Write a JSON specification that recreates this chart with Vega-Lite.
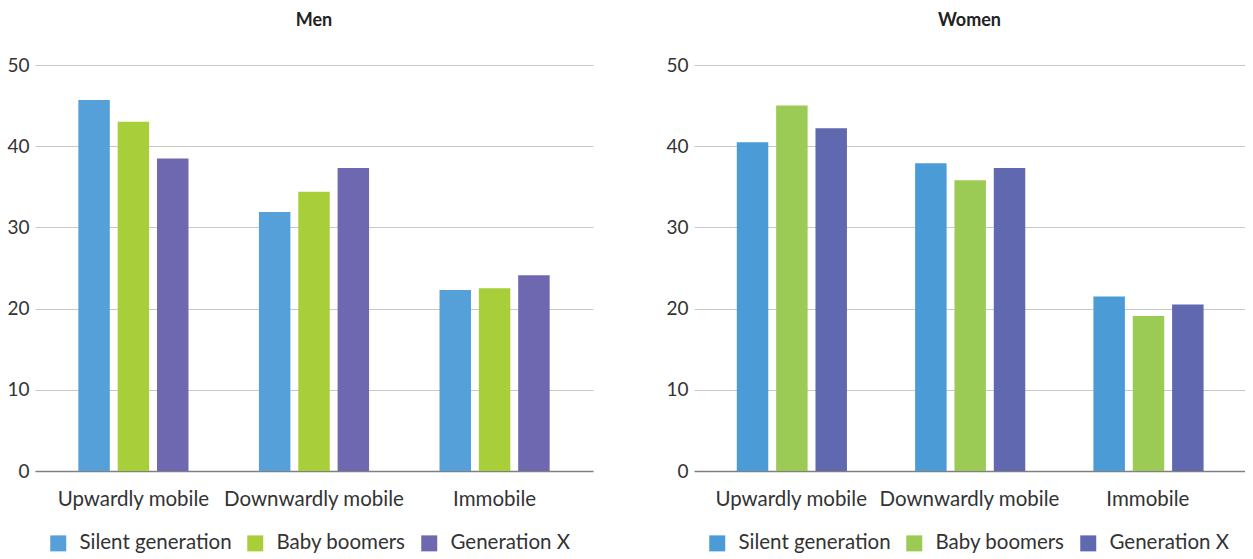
{
  "$schema": "https://vega.github.io/schema/vega-lite/v6.json",
  "padding": {"left": 6, "top": 12, "right": 0, "bottom": 0},
  "background": "white",
  "config": {
    "font": "Lato",
    "view": {"stroke": null},
    "concat": {"spacing": 72},
    "title": {"font": "Lato", "fontSize": 18, "fontWeight": "bold", "color": "#222", "offset": 26},
    "axis": {"labelFont": "Lato", "labelFontSize": 20.5, "labelColor": "#333", "ticks": false, "title": null, "labelLimit": 300, "labelOverlap": false},
    "legend": {"labelFont": "Lato", "labelFontSize": 20.5, "labelColor": "#333", "labelLimit": 300, "symbolType": "square", "symbolSize": 256, "symbolStrokeWidth": 0, "columnPadding": 13, "labelOffset": 11, "direction": "horizontal", "title": null}
  },
  "data": {"values": [
    {"sex": "Men", "mobility": "Upwardly mobile", "generation": "Silent generation", "value": 45.7},
    {"sex": "Men", "mobility": "Upwardly mobile", "generation": "Baby boomers", "value": 43.0},
    {"sex": "Men", "mobility": "Upwardly mobile", "generation": "Generation X", "value": 38.5},
    {"sex": "Men", "mobility": "Downwardly mobile", "generation": "Silent generation", "value": 31.9},
    {"sex": "Men", "mobility": "Downwardly mobile", "generation": "Baby boomers", "value": 34.4},
    {"sex": "Men", "mobility": "Downwardly mobile", "generation": "Generation X", "value": 37.3},
    {"sex": "Men", "mobility": "Immobile", "generation": "Silent generation", "value": 22.3},
    {"sex": "Men", "mobility": "Immobile", "generation": "Baby boomers", "value": 22.5},
    {"sex": "Men", "mobility": "Immobile", "generation": "Generation X", "value": 24.1},
    {"sex": "Women", "mobility": "Upwardly mobile", "generation": "Silent generation", "value": 40.5},
    {"sex": "Women", "mobility": "Upwardly mobile", "generation": "Baby boomers", "value": 45.0},
    {"sex": "Women", "mobility": "Upwardly mobile", "generation": "Generation X", "value": 42.2},
    {"sex": "Women", "mobility": "Downwardly mobile", "generation": "Silent generation", "value": 37.9},
    {"sex": "Women", "mobility": "Downwardly mobile", "generation": "Baby boomers", "value": 35.8},
    {"sex": "Women", "mobility": "Downwardly mobile", "generation": "Generation X", "value": 37.3},
    {"sex": "Women", "mobility": "Immobile", "generation": "Silent generation", "value": 21.5},
    {"sex": "Women", "mobility": "Immobile", "generation": "Baby boomers", "value": 19.1},
    {"sex": "Women", "mobility": "Immobile", "generation": "Generation X", "value": 20.5}
  ]},
  "resolve": {"scale": {"color": "independent"}, "legend": {"color": "independent"}},
  "hconcat": [
    {
      "title": "Men",
      "width": 558,
      "height": 406,
      "transform": [{"filter": "datum.sex === 'Men'"}],
      "mark": {"type": "bar"},
      "encoding": {
        "x": {"field": "mobility", "type": "nominal", "sort": ["Upwardly mobile", "Downwardly mobile", "Immobile"],
              "scale": {"paddingInner": 0.39, "paddingOuter": 0.24},
              "axis": {"labelAngle": 0, "domainColor": "#808080", "domainWidth": 1.5, "labelPadding": 18}},
        "xOffset": {"field": "generation", "type": "nominal", "sort": ["Silent generation", "Baby boomers", "Generation X"],
                    "scale": {"paddingInner": 0.2, "paddingOuter": 0}},
        "y": {"field": "value", "type": "quantitative", "scale": {"domain": [0, 50]},
              "axis": {"values": [0, 10, 20, 30, 40, 50], "domain": false, "gridColor": "#c8c8c8", "gridWidth": 1.2, "labelPadding": 6, "labelFontSize": 19}},
        "color": {"field": "generation", "type": "nominal", "sort": ["Silent generation", "Baby boomers", "Generation X"],
                  "scale": {"domain": ["Silent generation", "Baby boomers", "Generation X"], "range": ["#55A0D8", "#A8CE3A", "#6E68B0"]},
                  "legend": {"orient": "none", "legendX": 13, "legendY": 468}}
      }
    },
    {
      "title": "Women",
      "width": 551,
      "height": 406,
      "transform": [{"filter": "datum.sex === 'Women'"}],
      "mark": {"type": "bar"},
      "encoding": {
        "x": {"field": "mobility", "type": "nominal", "sort": ["Upwardly mobile", "Downwardly mobile", "Immobile"],
              "scale": {"paddingInner": 0.39, "paddingOuter": 0.24},
              "axis": {"labelAngle": 0, "domainColor": "#808080", "domainWidth": 1.5, "labelPadding": 18}},
        "xOffset": {"field": "generation", "type": "nominal", "sort": ["Silent generation", "Baby boomers", "Generation X"],
                    "scale": {"paddingInner": 0.2, "paddingOuter": 0}},
        "y": {"field": "value", "type": "quantitative", "scale": {"domain": [0, 50]},
              "axis": {"values": [0, 10, 20, 30, 40, 50], "domain": false, "gridColor": "#c8c8c8", "gridWidth": 1.2, "labelPadding": 6, "labelFontSize": 19}},
        "color": {"field": "generation", "type": "nominal", "sort": ["Silent generation", "Baby boomers", "Generation X"],
                  "scale": {"domain": ["Silent generation", "Baby boomers", "Generation X"], "range": ["#4A9BD6", "#9CCB55", "#6068B0"]},
                  "legend": {"orient": "none", "legendX": 13, "legendY": 468}}
      }
    }
  ]
}
